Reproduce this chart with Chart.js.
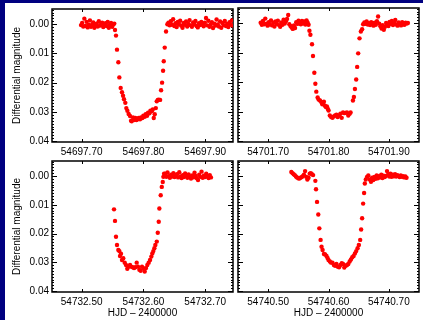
<!DOCTYPE html>
<html lang="en">
<head>
    <meta charset="UTF-8">
    <title>Transit light curves</title>
    <script src="https://cdn.jsdelivr.net/npm/chart.js"></script>
    <style>
        body {
            margin: 0;
            padding: 0;
            background-color: #000080;
            width: 423px;
            height: 320px;
            overflow: hidden;
        }
        #page {
            position: absolute;
            left: 5px;
            top: 3px;
            width: 418px;
            height: 317px;
            background: #ffffff;
        }
        canvas {
            position: absolute;
            left: 0;
            top: 0;
        }
    </style>
</head>
<body>
    <div id="page"></div>
    <canvas id="c1" width="423" height="320"></canvas>
    <canvas id="c2" width="423" height="320"></canvas>
    <canvas id="c3" width="423" height="320"></canvas>
    <canvas id="c4" width="423" height="320"></canvas>

    <script>
        // HJD - 2400000 = day + fraction
        const day1 = 54697;
        const frac1 = [
            .6990,.7008,.7026,.7044,.7062,.7080,.7098,.7116,.7134,.7152,.7170,.7188,.7206,.7224,.7242,.7260,
            .7278,.7296,.7314,.7332,.7350,.7368,.7386,.7404,.7422,.7440,.7458,.7476,.7494,.7512,.7528,
            .7540,.7556,.7572,.7594,.7610,.7632,.7653,.7670,.7686,.7707,.7723,.7740,.7761,.7783,.7800,.7810,
            .7832,.7848,.7870,.7886,.7907,.7924,.7945,.7961,.7983,.7999,.8021,.8037,.8059,.8075,.8097,.8113,
            .8135,.8151,.8167,.8183,.8200,.8216,.8232,.8248,.8270,.8286,.8302,.8318,.8329,.8345,.8366,.8388,
            .8405,.8424,.8443,.8462,.8481,.8500,.8519,.8538,.8557,.8576,.8595,.8614,.8633,.8652,.8671,.8690,
            .8709,.8728,.8747,.8766,.8785,.8804,.8823,.8842,.8861,.8880,.8899,.8918,.8937,.8956,.8975,.8994,
            .9013,.9032,.9051,.9070,.9089,.9108,.9127,.9146,.9165,.9184,.9203,.9222,.9241,.9260,.9279,.9298,
            .9317,.9336,.9355,.9374,.9393,.9412,.9431,.9450
        ];
        const mag1 = [
            .0003,-.0004,.0008,-.0019,.0006,-.0008,.0011,.0002,-.0013,.0009,.0001,-.0006,.0012,.0004,-.0002,.0008,
            -.0010,.0005,.0000,-.0005,.0010,.0003,-.0003,.0006,-.0008,.0012,.0002,-.0004,.0009,.0001,-.0002,
            .0020,.0039,.0087,.0130,.0182,.0218,.0233,.0245,.0257,.0269,.0287,.0296,.0307,.0314,.0330,.0332,
            .0319,.0328,.0321,.0328,.0325,.0321,.0325,.0319,.0321,.0313,.0317,.0308,.0313,.0303,.0305,.0296,
            .0298,.0292,.0321,.0308,.0287,.0264,.0259,.0258,.0259,.0226,.0200,.0159,.0127,.0080,.0025,.0000,
            -.0005,.0004,-.0010,.0002,-.0017,.0006,-.0003,.0010,-.0008,.0001,-.0012,.0005,.0012,-.0004,.0002,-.0009,
            .0008,-.0001,-.0014,.0004,.0009,-.0006,.0001,-.0011,.0006,.0011,-.0003,.0003,-.0008,.0000,.0007,-.0005,
            -.0021,.0004,-.0012,.0009,.0002,-.0007,.0013,-.0002,.0005,-.0016,.0001,.0008,-.0009,.0012,-.0004,.0003,
            -.0011,.0006,-.0001,.0010,-.0007,.0002,-.0013,.0005
        ];

        const day2 = 54701;
        const frac2 = [
            .6876,.6895,.6914,.6933,.6952,.6971,.6990,.7009,.7028,.7047,.7066,.7085,.7104,.7123,.7142,.7161,
            .7180,.7199,.7218,.7237,.7256,.7275,.7294,.7313,.7332,.7351,.7370,.7389,.7408,.7427,.7446,.7465,
            .7484,.7503,.7522,.7541,.7560,.7579,.7598,.7617,.7636,.7655,.7670,
            .7684,.7700,.7727,.7743,.7765,.7782,.7798,.7820,.7836,.7859,.7880,.7897,.7908,.7924,.7941,.7957,
            .7973,.7990,.8001,.8022,.8044,.8066,.8088,.8110,.8132,.8153,.8175,.8197,.8219,.8241,.8263,.8284,
            .8306,.8328,.8350,.8366,.8405,.8421,.8438,.8459,.8475,.8492,.8514,.8536,.8557,.8574,
            .8594,.8613,.8632,.8651,.8670,.8689,.8708,.8727,.8746,.8765,.8784,.8803,.8822,.8841,.8860,.8879,
            .8898,.8917,.8936,.8955,.8974,.8993,.9012,.9031,.9050,.9069,.9088,.9107,.9126,.9145,.9164,.9183,
            .9202,.9221,.9240,.9259,.9278,.9297,.9316
        ];
        const mag2 = [
            -.0002,.0005,-.0008,.0003,-.0016,.0001,.0008,-.0004,.0004,-.0010,.0007,-.0002,.0011,-.0006,.0002,-.0009,
            .0006,.0012,-.0003,.0005,-.0012,.0001,-.0007,-.0015,-.0028,.0003,.0009,.0014,.0019,.0007,.0016,-.0004,
            .0002,-.0009,-.0005,.0003,-.0008,.0001,-.0006,.0004,-.0010,-.0002,.0005,
            .0025,.0039,.0071,.0111,.0168,.0205,.0232,.0252,.0259,.0262,.0267,.0275,.0273,.0266,.0280,.0284,
            .0282,.0291,.0296,.0313,.0318,.0321,.0316,.0313,.0310,.0318,.0313,.0307,.0321,.0303,.0305,.0304,
            .0303,.0313,.0307,.0303,.0262,.0250,.0223,.0191,.0148,.0102,.0051,.0028,.0020,.0003,
            -.0003,.0002,-.0006,.0004,.0000,.0006,-.0004,.0003,.0008,-.0002,.0005,-.0007,-.0023,.0001,.0010,.0018,
            .0006,.0022,.0012,-.0001,.0004,.0009,-.0005,.0002,-.0008,.0006,.0000,-.0011,.0004,.0008,-.0003,.0002,
            .0007,-.0004,.0003,.0005,-.0002,.0001,-.0001
        ];

        const day3 = 54732;
        const frac3 = [
            .5524,.5540,.5556,.5572,.5594,.5610,.5621,.5637,.5653,.5674,.5697,.5718,.5739,.5762,.5783,.5804,
            .5827,.5848,.5869,.5891,.5912,.5934,.5956,.5977,.5998,.6021,.6042,.6063,.6085,.6107,.6128,.6144,
            .6160,.6177,.6193,.6216,.6232,.6248,.6258,.6280,.6297,.6313,.6323,.6334,
            .6352,.6371,.6390,.6409,.6428,.6447,.6466,.6485,.6504,.6523,.6542,.6561,.6580,.6599,.6618,.6637,
            .6656,.6675,.6694,.6713,.6732,.6751,.6770,.6789,.6808,.6827,.6846,.6865,.6884,.6903,.6922,.6941,
            .6960,.6979,.6998,.7017,.7036,.7055,.7074,.7093
        ];
        const mag3 = [
            .0116,.0156,.0211,.0240,.0257,.0261,.0278,.0270,.0292,.0286,.0301,.0309,.0322,.0315,.0309,.0315,
            .0317,.0320,.0317,.0301,.0315,.0326,.0329,.0315,.0320,.0332,.0320,.0309,.0301,.0292,.0280,.0269,
            .0261,.0251,.0240,.0228,.0197,.0159,.0113,.0067,.0038,.0021,.0003,-.0008,
            -.0008,.0003,-.0012,.0001,.0006,-.0004,.0002,-.0010,.0004,.0000,-.0006,.0005,-.0013,.0002,.0007,-.0003,
            .0004,-.0009,.0001,.0006,-.0005,.0003,.0009,-.0002,.0005,-.0011,.0000,.0008,.0014,-.0004,.0003,-.0015,
            .0006,-.0001,.0004,-.0008,.0002,.0007,-.0003,.0005
        ];

        const day4 = 54740;
        const frac4 = [
            .5384,.5403,.5422,.5441,.5460,.5479,.5498,.5517,.5536,.5555,.5574,.5593,.5612,.5631,.5650,.5669,
            .5688,.5707,.5726,.5745,
            .5782,.5793,.5810,.5831,.5848,.5869,.5885,.5902,.5925,.5946,.5967,.5984,.6000,.6023,.6044,.6066,
            .6089,.6110,.6131,.6154,.6175,.6197,.6220,.6241,.6262,.6285,.6307,.6328,.6351,.6372,.6394,.6416,
            .6438,.6459,.6482,.6503,.6525,.6541,.6557,.6574,.6590,.6602,.6618,.6639,.6660,
            .6685,.6704,.6723,.6742,.6761,.6780,.6799,.6818,.6837,.6856,.6875,.6894,.6913,.6932,.6951,.6970,
            .6989,.7008,.7027,.7046,.7065,.7084,.7103,.7122,.7141,.7160,.7179,.7198,.7217,.7236,.7255,.7274,
            .7293
        ];
        const mag4 = [
            -.0014,-.0010,-.0006,-.0003,.0002,.0005,.0008,.0009,.0006,.0004,.0001,-.0004,-.0017,.0003,.0012,.0006,
            -.0008,-.0010,-.0006,-.0003,
            .0017,.0046,.0090,.0134,.0182,.0222,.0246,.0257,.0271,.0273,.0278,.0285,.0292,.0297,.0301,.0301,
            .0309,.0312,.0306,.0315,.0317,.0309,.0303,.0306,.0318,.0312,.0309,.0306,.0297,.0290,.0282,.0278,
            .0269,.0261,.0251,.0240,.0222,.0186,.0147,.0096,.0059,.0026,.0012,.0003,-.0002,
            .0012,.0020,.0006,.0014,.0003,.0010,-.0002,.0008,.0001,.0005,-.0004,.0007,-.0001,.0004,.0000,-.0017,
            -.0006,.0002,-.0008,.0003,-.0004,.0001,-.0006,.0002,-.0003,.0000,.0004,-.0002,.0003,.0001,.0005,.0002,
            .0006
        ];

        // tick labels
        const xTicks1 = [54697.70, 54697.80, 54697.90];
        const xTicks2 = [54701.70, 54701.80, 54701.90];
        const xTicks3 = [54732.50, 54732.60, 54732.70];
        const xTicks4 = [54740.50, 54740.60, 54740.70];
        const yTicks = [0.00, 0.01, 0.02, 0.03, 0.04];
        const yMinorStep = 0.001;
        const yLimits = [-0.0052, 0.0403];

        const W = 423, H = 320;
        Chart.defaults.font.family = "'Liberation Sans', Arial, sans-serif";
        Chart.defaults.font.size = 10;
        Chart.defaults.color = '#000';

        // IDL style box with inward ticks
        const idlAxes = {
            id: 'idlAxes',
            beforeDatasetsDraw(chart) {
                const { ctx, chartArea: a, scales: { x, y } } = chart;
                ctx.save();
                ctx.strokeStyle = '#000';
                ctx.lineWidth = 1;
                ctx.beginPath();
                x.ticks.forEach(t => {
                    const px = Math.round(x.getPixelForValue(t.value)) + 0.5;
                    ctx.moveTo(px, a.bottom); ctx.lineTo(px, a.bottom - 3);
                    ctx.moveTo(px, a.top); ctx.lineTo(px, a.top + 3);
                });
                const first = Math.ceil(yLimits[0] / yMinorStep);
                const last = Math.floor(yLimits[1] / yMinorStep);
                for (let i = first; i <= last; i++) {
                    const py = Math.round(y.getPixelForValue(i * yMinorStep)) + 0.5;
                    const len = i % 10 === 0 ? 5 : 2;
                    ctx.moveTo(a.left, py); ctx.lineTo(a.left + len, py);
                    ctx.moveTo(a.right, py); ctx.lineTo(a.right - len, py);
                }
                ctx.stroke();
                ctx.lineWidth = 1.5;
                ctx.strokeRect(a.left, a.top, a.right - a.left, a.bottom - a.top);
                ctx.restore();
            }
        };

        function panel(id, day, frac, mag, xTicks, xRange, box, leftLabels, bottomTitle) {
            const yw = leftLabels ? 47 : 0;
            const xh = bottomTitle ? 28 : 20;
            return new Chart(document.getElementById(id), {
                type: 'scatter',
                data: {
                    datasets: [{
                        data: frac.map((f, i) => ({ x: day + f, y: mag[i] })),
                        backgroundColor: '#ff0000',
                        borderWidth: 0,
                        pointRadius: 2.2
                    }]
                },
                options: {
                    responsive: false,
                    animation: false,
                    layout: {
                        padding: {
                            left: box.left - yw,
                            top: box.top,
                            right: W - box.right,
                            bottom: H - box.bottom - xh
                        }
                    },
                    plugins: { legend: { display: false }, tooltip: { enabled: false } },
                    scales: {
                        x: {
                            type: 'linear',
                            min: day + xRange[0],
                            max: day + xRange[1],
                            grid: { display: false, drawTicks: false },
                            border: { display: false },
                            afterBuildTicks: s => { s.ticks = xTicks.map(v => ({ value: v })); },
                            afterFit: s => { s.height = xh; },
                            ticks: { padding: 4, maxRotation: 0, callback: v => v.toFixed(2) },
                            title: {
                                display: bottomTitle,
                                text: 'HJD – 2400000',
                                padding: { top: 0, bottom: 1 }
                            }
                        },
                        y: {
                            type: 'linear',
                            reverse: true,
                            min: yLimits[0],
                            max: yLimits[1],
                            grid: { display: false, drawTicks: false },
                            border: { display: false },
                            afterBuildTicks: s => { s.ticks = yTicks.map(v => ({ value: v })); },
                            afterFit: s => { s.width = yw; },
                            ticks: { display: leftLabels, padding: 3, callback: v => v.toFixed(2) },
                            title: {
                                display: leftLabels,
                                text: 'Differential magnitude',
                                padding: { top: 6.5, bottom: 0 }
                            }
                        }
                    }
                },
                plugins: [idlAxes]
            });
        }

        panel('c1', day1, frac1, mag1, xTicks1, [0.652, 0.945], { left: 52, top: 8, right: 233, bottom: 142 }, true, false);
        panel('c2', day2, frac2, mag2, xTicks2, [0.650, 0.950], { left: 238, top: 8, right: 421, bottom: 142 }, false, false);
        panel('c3', day3, frac3, mag3, xTicks3, [0.452, 0.745], { left: 52, top: 161, right: 233, bottom: 292 }, true, true);
        panel('c4', day4, frac4, mag4, xTicks4, [0.450, 0.750], { left: 238, top: 161, right: 421, bottom: 292 }, false, true);
    </script>
</body>
</html>
